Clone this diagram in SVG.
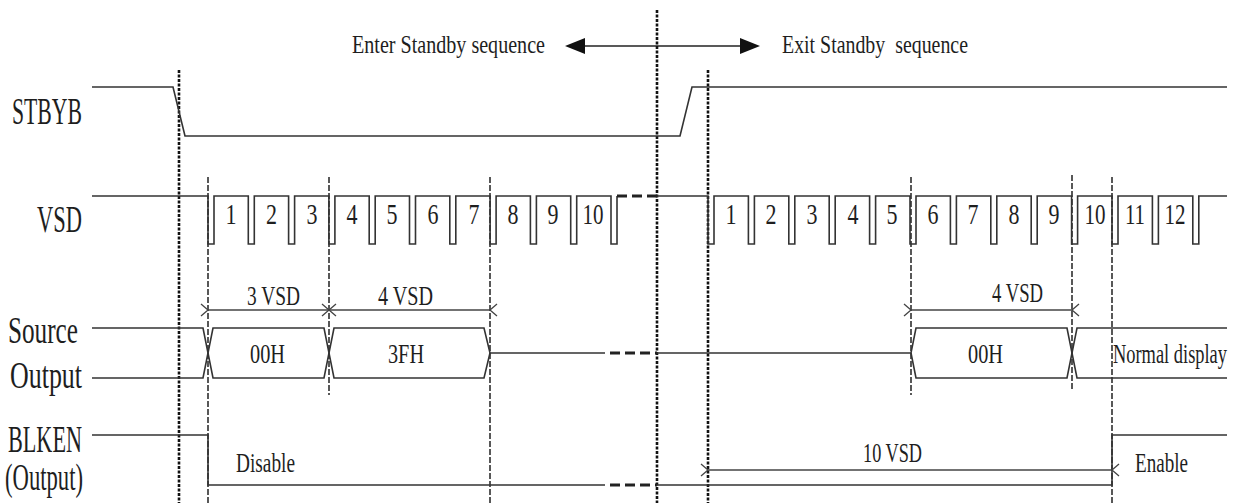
<svg xmlns="http://www.w3.org/2000/svg" width="1240" height="503" viewBox="0 0 1240 503">
<style>
  text { font-family: "Liberation Serif", "Times New Roman", serif; fill: #1e1e1e; white-space: pre; }
  .lbl { font-size: 37px; }
  .hdr { font-size: 26px; }
  .num { font-size: 30px; text-anchor: middle; }
  .dim { font-size: 28px; }
  .sig { fill: none; stroke: #333; stroke-width: 1.6; stroke-linejoin: miter; }
  .brk { fill: none; stroke: #222; stroke-width: 3; stroke-dasharray: 10 5; }
  .gthick { stroke: #111; stroke-width: 2.6; stroke-dasharray: 3 1.5; }
  .gthin { stroke: #222; stroke-width: 1.5; stroke-dasharray: 6 2; }
  .darr { fill: none; stroke: #444; stroke-width: 1.4; marker-start: url(#open); marker-end: url(#open); }
</style>
<defs>
  <marker id="open" viewBox="-1 -7 10 14" refX="0" refY="0" markerWidth="10" markerHeight="14" markerUnits="userSpaceOnUse" orient="auto-start-reverse">
    <path d="M7,-6 L0,0 L7,6" fill="none" stroke="#444" stroke-width="1.3"/>
  </marker>
</defs>
<rect width="1240" height="503" fill="#fff"/>

<g id="labels">
  <text class="lbl" x="12" y="124" textLength="70" lengthAdjust="spacingAndGlyphs">STBYB</text>
  <text class="lbl" x="37" y="232" textLength="45" lengthAdjust="spacingAndGlyphs">VSD</text>
  <text class="lbl" x="8" y="343" textLength="70" lengthAdjust="spacingAndGlyphs">Source</text>
  <text class="lbl" x="10" y="388" textLength="72" lengthAdjust="spacingAndGlyphs">Output</text>
  <text class="lbl" x="8" y="452" textLength="74" lengthAdjust="spacingAndGlyphs">BLKEN</text>
  <text class="lbl" x="5" y="490" textLength="78" lengthAdjust="spacingAndGlyphs">(Output)</text>
</g>

<g id="header">
  <text class="hdr" x="352" y="53" textLength="193" lengthAdjust="spacingAndGlyphs">Enter Standby sequence</text>
  <text class="hdr" x="782" y="53" textLength="186" lengthAdjust="spacingAndGlyphs">Exit Standby  sequence</text>
  <line x1="583" y1="46" x2="740" y2="46" stroke="#222" stroke-width="1.5"/>
  <path d="M565,46 L585,38 L585,54 Z" fill="#111"/>
  <path d="M760,46 L740,38 L740,54 Z" fill="#111"/>
</g>

<g id="guides">
  <line class="gthick" x1="179" y1="70" x2="179" y2="503"/>
  <line class="gthick" x1="657" y1="10" x2="657" y2="503"/>
  <line class="gthick" x1="708" y1="70" x2="708" y2="503"/>
  <line class="gthin" x1="208" y1="177" x2="208" y2="503"/>
  <line class="gthin" x1="329" y1="177" x2="329" y2="395"/>
  <line class="gthin" x1="490" y1="177" x2="490" y2="503"/>
  <line class="gthin" x1="911" y1="177" x2="911" y2="395"/>
  <line class="gthin" x1="1072" y1="175" x2="1072" y2="390"/>
  <line class="gthin" x1="1112" y1="177" x2="1112" y2="503"/>
</g>

<g id="stbyb">
  <path class="sig" d="M92,87 H173 L185,136 H680 L692,87 H1227"/>
</g>

<g id="vsd">
  <path class="sig" d="M92,196 H208 V244 H214 V196 H248.3 V244 H254.3 V196 H288.6 V244 H294.6 V196 H328.9 V244 H334.9 V196 H369.2 V244 H375.2 V196 H409.5 V244 H415.5 V196 H449.8 V244 H455.8 V196 H490.1 V244 H496.1 V196 H530.4 V244 H536.4 V196 H570.7 V244 H576.7 V196 H611 V244 H617 V196"/>
  <line class="brk" x1="617" y1="196" x2="657" y2="196"/>
  <path class="sig" d="M657,196 H708 V244 H714 V196 H748.4 V244 H754.4 V196 H788.8 V244 H794.8 V196 H829.2 V244 H835.2 V196 H869.6 V244 H875.6 V196 H910 V244 H916 V196 H950.4 V244 H956.4 V196 H990.8 V244 H996.8 V196 H1031.2 V244 H1037.2 V196 H1071.6 V244 H1077.6 V196 H1112 V244 H1118 V196 H1152.4 V244 H1158.4 V196 H1192.8 V244 H1198.8 V196 H1227"/>
  <text class="num" x="231" y="224" textLength="11" lengthAdjust="spacingAndGlyphs">1</text>
  <text class="num" x="271.5" y="224" textLength="11" lengthAdjust="spacingAndGlyphs">2</text>
  <text class="num" x="312" y="224" textLength="11" lengthAdjust="spacingAndGlyphs">3</text>
  <text class="num" x="352" y="224" textLength="11" lengthAdjust="spacingAndGlyphs">4</text>
  <text class="num" x="392" y="224" textLength="11" lengthAdjust="spacingAndGlyphs">5</text>
  <text class="num" x="433" y="224" textLength="11" lengthAdjust="spacingAndGlyphs">6</text>
  <text class="num" x="474" y="224" textLength="11" lengthAdjust="spacingAndGlyphs">7</text>
  <text class="num" x="513" y="224" textLength="11" lengthAdjust="spacingAndGlyphs">8</text>
  <text class="num" x="553" y="224" textLength="11" lengthAdjust="spacingAndGlyphs">9</text>
  <text class="num" x="593" y="224" textLength="21" lengthAdjust="spacingAndGlyphs">10</text>
  <text class="num" x="731" y="224" textLength="11" lengthAdjust="spacingAndGlyphs">1</text>
  <text class="num" x="771" y="224" textLength="11" lengthAdjust="spacingAndGlyphs">2</text>
  <text class="num" x="812" y="224" textLength="11" lengthAdjust="spacingAndGlyphs">3</text>
  <text class="num" x="853" y="224" textLength="11" lengthAdjust="spacingAndGlyphs">4</text>
  <text class="num" x="892" y="224" textLength="11" lengthAdjust="spacingAndGlyphs">5</text>
  <text class="num" x="933" y="224" textLength="11" lengthAdjust="spacingAndGlyphs">6</text>
  <text class="num" x="973" y="224" textLength="11" lengthAdjust="spacingAndGlyphs">7</text>
  <text class="num" x="1014" y="224" textLength="11" lengthAdjust="spacingAndGlyphs">8</text>
  <text class="num" x="1054" y="224" textLength="11" lengthAdjust="spacingAndGlyphs">9</text>
  <text class="num" x="1095" y="224" textLength="21" lengthAdjust="spacingAndGlyphs">10</text>
  <text class="num" x="1135" y="224" textLength="20" lengthAdjust="spacingAndGlyphs">11</text>
  <text class="num" x="1175" y="224" textLength="21" lengthAdjust="spacingAndGlyphs">12</text>
</g>

<g id="source-output">
  <path class="sig" d="M92,328 H203 L213,378 H324 L334,328 H484 L490,353 H605"/>
  <path class="sig" d="M92,378 H203 L213,328 H324 L334,378 H484 L490,353"/>
  <line class="brk" x1="610" y1="353" x2="657" y2="353"/>
  <path class="sig" d="M657,353 H911 L916,328 H1067 L1077,378 H1227"/>
  <path class="sig" d="M911,353 L916,378 H1067 L1077,328 H1227"/>
  <text class="dim" x="250" y="363" textLength="35" lengthAdjust="spacingAndGlyphs">00H</text>
  <text class="dim" x="388" y="363" textLength="36" lengthAdjust="spacingAndGlyphs">3FH</text>
  <text class="dim" x="968" y="363" textLength="35" lengthAdjust="spacingAndGlyphs">00H</text>
  <text class="dim" x="1113" y="363" textLength="114" lengthAdjust="spacingAndGlyphs">Normal display</text>
</g>

<g id="blken">
  <path class="sig" d="M92,435 H208 V485 H605"/>
  <line class="brk" x1="610" y1="485" x2="657" y2="485"/>
  <path class="sig" d="M657,485 H1112 V435 H1227"/>
  <text class="dim" x="236" y="472" textLength="59" lengthAdjust="spacingAndGlyphs">Disable</text>
  <text class="dim" x="1135" y="472" textLength="53" lengthAdjust="spacingAndGlyphs">Enable</text>
</g>

<g id="connectors">
  <line class="darr" x1="208" y1="310" x2="329" y2="310"/>
  <line class="darr" x1="329" y1="310" x2="490" y2="310"/>
  <line class="darr" x1="911" y1="310" x2="1072" y2="310"/>
  <line class="darr" x1="708" y1="470" x2="1112" y2="470"/>
  <text class="dim" x="247" y="305" textLength="53" lengthAdjust="spacingAndGlyphs">3 VSD</text>
  <text class="dim" x="378" y="305" textLength="55" lengthAdjust="spacingAndGlyphs">4 VSD</text>
  <text class="dim" x="992" y="302" textLength="51" lengthAdjust="spacingAndGlyphs">4 VSD</text>
  <text class="dim" x="863" y="462" textLength="59" lengthAdjust="spacingAndGlyphs">10 VSD</text>
</g>
</svg>
